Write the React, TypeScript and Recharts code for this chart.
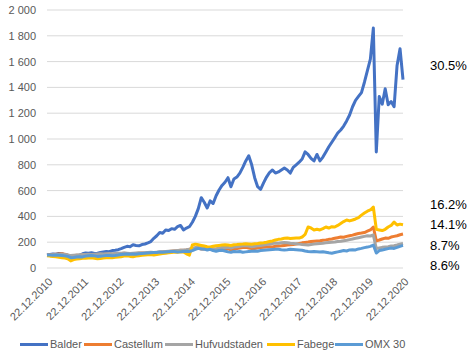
import { LineChart, Line, XAxis, YAxis, CartesianGrid } from 'recharts'

// Monthly index levels, Dec 2010 = 100, one row per year (Dec 2010 first, then Jan..Dec)
const balder = [
  100,
  104, 108, 106, 112, 110, 104, 98, 92, 96, 94, 100, 110,
  116, 114, 118, 112, 115, 120, 124, 128, 126, 135, 138, 142,
  150, 160, 168, 165, 180, 175, 172, 182, 186, 195, 205, 230,
  250, 275, 270, 295, 290, 305, 300, 320, 330, 295, 310, 320,
  355, 400, 460, 545, 510, 465, 520, 500, 560, 605, 640, 665,
  700, 630, 690, 705, 735, 780, 830, 870, 800, 700, 630, 610,
  660, 705, 740, 760, 736, 745, 760, 775, 760, 736, 780, 800,
  820, 845, 900, 880, 850, 830, 880, 830, 860, 900, 940, 975,
  1010, 1046, 1070, 1100, 1140, 1186, 1250, 1300, 1330, 1360, 1440, 1530,
  1620, 1860, 900, 1330, 1270, 1390, 1265, 1290, 1250, 1570, 1700, 1460
]

const castellum = [
  100,
  102, 104, 106, 108, 110, 106, 100, 92, 95, 98, 96, 100,
  102, 104, 100, 98, 100, 102, 104, 106, 104, 106, 108, 110,
  112, 114, 112, 110, 108, 112, 114, 116, 114, 118, 120, 118,
  120, 122, 124, 126, 128, 130, 132, 134, 138, 136, 140, 145,
  150, 155, 152, 148, 150, 146, 150, 148, 145, 150, 152, 150,
  148, 140, 145, 150, 155, 158, 160, 155, 150, 152, 155, 158,
  160, 162, 165, 163, 168, 170, 172, 175, 178, 180, 182, 185,
  190, 195, 198, 201, 205, 208, 210, 212, 215, 218, 222, 225,
  230, 235, 240, 238, 245, 250, 255, 262, 268, 271, 275, 285,
  295, 318, 210, 217, 225, 232, 230, 240, 245, 250, 258, 263
]

const hufvudstaden = [
  100,
  100, 102, 104, 105, 106, 104, 102, 96, 98, 100, 102, 104,
  105, 106, 104, 106, 108, 110, 108, 110, 112, 110, 112, 114,
  115, 116, 114, 112, 114, 116, 118, 116, 118, 120, 122, 120,
  122, 124, 126, 128, 130, 132, 134, 136, 138, 140, 142, 145,
  150, 158, 160, 155, 152, 150, 155, 150, 148, 155, 160, 158,
  160, 155, 162, 165, 168, 172, 175, 170, 165, 168, 172, 175,
  178, 182, 186, 190, 194, 192, 195, 198, 196, 192, 190, 188,
  185, 182, 180, 178, 182, 185, 188, 190, 192, 195, 198, 200,
  201, 205, 208, 212, 215, 220, 225, 230, 235, 240, 245, 250,
  248, 256, 150, 155, 160, 163, 165, 170, 172, 178, 185, 190
]

const fabege = [
  95,
  92, 90, 88, 84, 80, 78, 72, 55, 65, 70, 72, 75,
  76, 78, 80, 76, 72, 74, 78, 80, 82, 80, 83, 86,
  88, 92, 95, 90, 88, 92, 95, 98, 100, 102, 105, 100,
  104, 108, 112, 115, 118, 120, 124, 122, 126, 124, 110, 100,
  178, 185, 180, 175, 170, 165, 163, 168, 172, 175, 178, 180,
  178, 175, 180, 182, 185, 186, 188, 186, 184, 188, 190, 194,
  196, 200, 205, 210, 217, 222, 225, 230, 232, 228, 230, 232,
  232, 240, 260, 318, 310, 295, 300, 295, 305, 318, 310, 320,
  318, 330, 345, 360, 372, 365, 372, 380, 390, 410, 426, 440,
  450, 473, 300, 295, 290, 300, 318, 330, 356, 333, 340, 335
]

const omx30 = [
  100,
  100, 98, 100, 98, 96, 94, 90, 80, 82, 85, 88, 86,
  92, 95, 96, 94, 90, 92, 94, 96, 96, 95, 97, 100,
  104, 106, 108, 106, 108, 106, 110, 112, 114, 116, 118, 120,
  120, 124, 122, 124, 126, 128, 128, 124, 126, 128, 130, 128,
  135, 145, 152, 148, 146, 140, 145, 135, 130, 135, 138, 132,
  125, 122, 128, 126, 128, 122, 125, 128, 130, 132, 130, 135,
  138, 140, 142, 144, 146, 145, 142, 140, 142, 145, 144, 142,
  140, 138, 132, 128, 126, 128, 126, 124, 126, 122, 118, 115,
  120, 125, 130, 135, 132, 140, 142, 140, 148, 152, 158, 162,
  168, 178, 116, 135, 140, 145, 150, 155, 152, 160, 168, 175
]

const yTicks = [0, 200, 400, 600, 800, 1000, 1200, 1400, 1600, 1800, 2000]
const returns = ['30.5%', '16.2%', '14.1%', '8.7%', '8.6%']

const series = [
  { key: 'balder', name: 'Balder', color: '#4472C4', values: balder },
  { key: 'castellum', name: 'Castellum', color: '#ED7D31', values: castellum },
  { key: 'hufvudstaden', name: 'Hufvudstaden', color: '#A5A5A5', values: hufvudstaden },
  { key: 'fabege', name: 'Fabege', color: '#FFC000', values: fabege },
  { key: 'omx', name: 'OMX 30', color: '#5B9BD5', values: omx30 }
]

const pad = (n: number) => (n < 10 ? '0' + n : String(n))

const data = balder.map((_, i) => {
  const m = (11 + i) % 12
  const y = 2010 + Math.floor((11 + i) / 12)
  const row: any = { date: `22.${pad(m + 1)}.${y}` }
  series.forEach(s => { row[s.key] = s.values[i] })
  return row
})

const fmtY = (v: number) =>
  v >= 1000 ? `${Math.floor(v / 1000)} ${String(v % 1000).padStart(3, '0')}` : String(v)

const font = '"Liberation Sans", Arial, sans-serif'

function DateTick({ x, y, payload }: any) {
  return (
    <g transform={`translate(${x},${y})`}>
      <text x={0} y={0} dy={9} textAnchor="end" transform="rotate(-45)"
        fill="#595959" fontSize={11} fontFamily={font}>
        {payload.value}
      </text>
    </g>
  )
}

// label positions of the return column and legend items
const returnTops = [58, 197, 217, 238, 258]
const legendLefts = [20, 84, 165, 267, 335]

export default function App() {
  return (
    <div style={{ position: 'absolute', left: 0, top: 0, width: 469, height: 352, background: '#fff', fontFamily: font }}>
      <LineChart width={469} height={352} data={data} margin={{ top: 10, right: 66, bottom: 22, left: 0 }}>
        <CartesianGrid vertical={false} stroke="#D9D9D9" />
        <XAxis dataKey="date" interval={11} tickLine={false} axisLine={false} height={62} tick={<DateTick />} />
        <YAxis domain={[0, 2000]} ticks={yTicks} tickFormatter={fmtY} width={47}
          tickLine={false} axisLine={false} tickMargin={5}
          tick={{ fill: '#595959', fontSize: 11, fontFamily: font }} />
        {series.map(s => (
          <Line key={s.key} dataKey={s.key} name={s.name} stroke={s.color} strokeWidth={3}
            dot={false} isAnimationActive={false} strokeLinejoin="round" />
        ))}
      </LineChart>

      {returns.map((r, i) => (
        <div key={r} style={{ position: 'absolute', left: 430, top: returnTops[i], fontSize: 13, color: '#000', lineHeight: '16px' }}>
          {r}
        </div>
      ))}

      {series.map((s, i) => (
        <div key={s.key} style={{ position: 'absolute', left: legendLefts[i], top: 337, display: 'flex', alignItems: 'center', fontSize: 11, color: '#595959', lineHeight: '14px', whiteSpace: 'nowrap' }}>
          <span style={{ display: 'inline-block', width: 28, height: 3, background: s.color, marginRight: 2 }} />
          <span>{s.name}</span>
        </div>
      ))}
    </div>
  )
}
